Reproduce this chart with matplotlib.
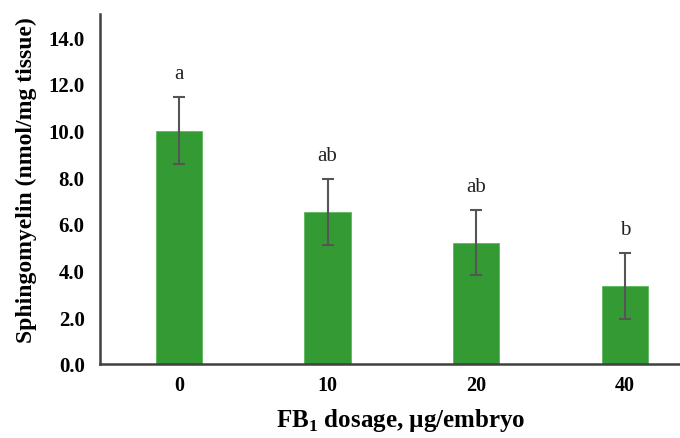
import numpy as np
import matplotlib.pyplot as plt

# data
dosages = ['0', '10', '20', '40']
sphingomyelin = [10.0, 6.5, 5.2, 3.35]
sem = [1.45, 1.42, 1.4, 1.42]
letters = ['a', 'ab', 'ab', 'b']
y_ticks = [0, 2, 4, 6, 8, 10, 12, 14]

serif = ['Liberation Serif', 'DejaVu Serif']

fig = plt.figure(figsize=(6.8, 4.39), dpi=100)
ax = fig.add_axes([0.147, 0.169, 0.853, 0.797])

x = np.arange(len(dosages))
ax.bar(x, sphingomyelin, width=0.31, color='#349a34', edgecolor='#5cb85c', linewidth=0.6,
       yerr=sem, error_kw=dict(ecolor='#555555', elinewidth=1.5, capsize=4, capthick=1.5))

for xi, v, e, lab in zip(x, sphingomyelin, sem, letters):
    ax.text(xi, v + e + 0.6, lab, ha='center', va='bottom', fontsize=15,
            family=serif, color='#222222')

ax.set_xlim(-0.53, 3.37)
ax.set_ylim(0, 15)
ax.set_yticks(y_ticks)
ax.set_yticklabels([f'{t:.1f}' for t in y_ticks], family=serif, fontweight='bold', fontsize=15)
ax.set_xticks(x)
ax.set_xticklabels(dosages, family=serif, fontweight='bold', fontsize=14.5)
ax.tick_params(length=0)
ax.tick_params(axis='y', pad=11)
ax.tick_params(axis='x', pad=8)

for s in ['top', 'right']:
    ax.spines[s].set_visible(False)
for s in ['left', 'bottom']:
    ax.spines[s].set_color('#404040')
    ax.spines[s].set_linewidth(1.8)

ax.set_ylabel('Sphingomyelin (nmol/mg tissue)', family=serif, fontweight='bold', fontsize=17)
ax.yaxis.set_label_coords(-0.108, 0.527)
ax.set_xlabel('FB$_\\mathregular{1}$ dosage, µg/embryo', family=serif, fontweight='bold', fontsize=18)
ax.xaxis.set_label_coords(0.518, -0.12)

fig.savefig('out.png', dpi=100)
